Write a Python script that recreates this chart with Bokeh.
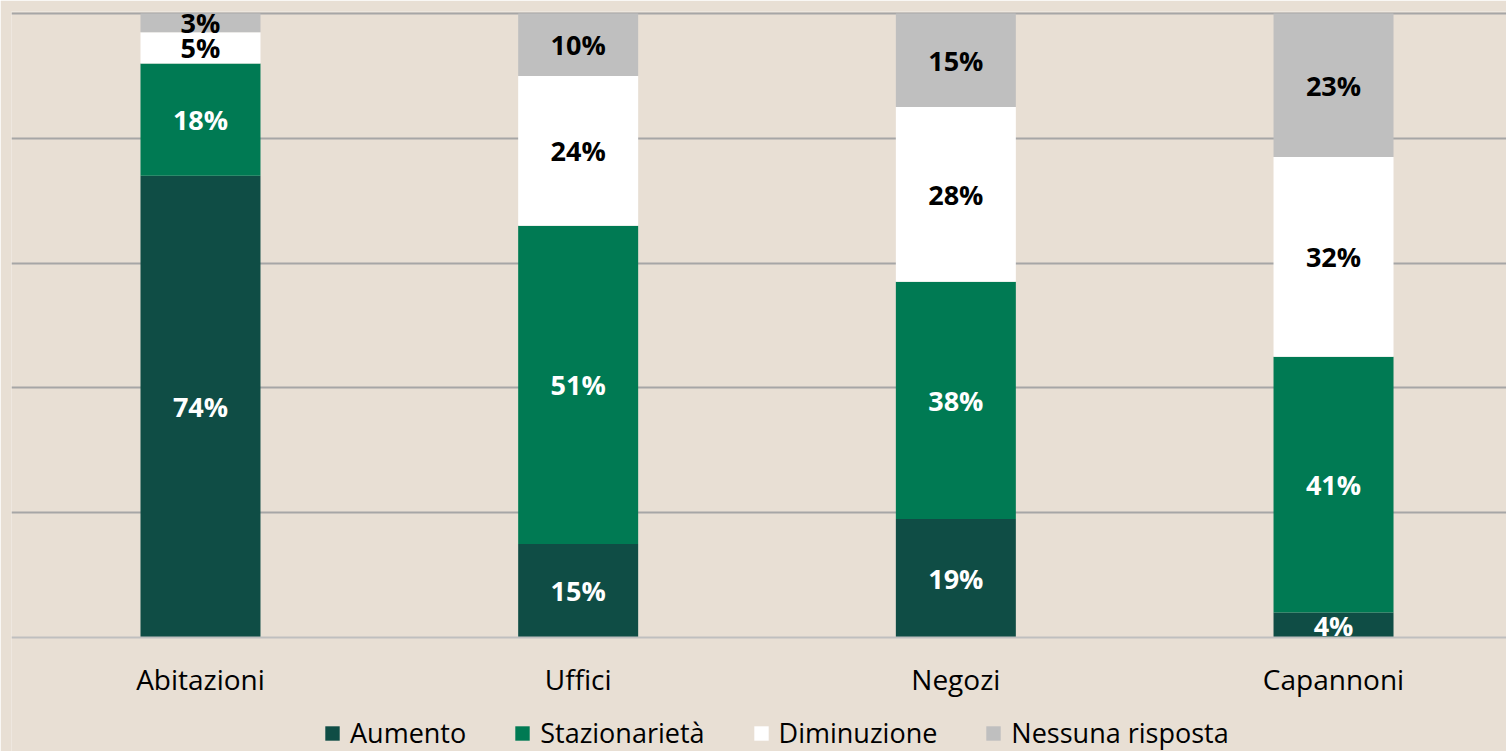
from bokeh.plotting import figure
from bokeh.models import ColumnDataSource, FixedTicker, Range1d, Legend
from bokeh.core.properties import value
from bokeh.embed import file_html
from bokeh.resources import INLINE

categories = ["Abitazioni", "Uffici", "Negozi", "Capannoni"]
aumento = [74, 15, 19, 4]
stazionarieta = [18, 51, 38, 41]
diminuzione = [5, 24, 28, 32]
nessuna = [3, 10, 15, 23]
series_names = ["Aumento", "Stazionarietà", "Diminuzione", "Nessuna risposta"]
colors = ["#0f4d45", "#007a53", "#ffffff", "#bfbfbf"]
label_colors = ["white", "white", "black", "black"]

BG = "#e8dfd4"
FONT = "Open Sans"

xs = list(range(len(categories)))
data = {"x": xs, "s0": aumento, "s1": stazionarieta, "s2": diminuzione, "s3": nessuna}
source = ColumnDataSource(data)

p = figure(output_backend="svg", toolbar_location=None,
           x_range=Range1d(-0.5004, 3.458), y_range=Range1d(-18.27, 100.32),
           frame_width=1495, frame_height=740,
           min_border_left=11, min_border_right=0, min_border_top=11, min_border_bottom=0,
           background_fill_color=BG, border_fill_color=BG, outline_line_color=None)

rs = p.vbar_stack(["s0", "s1", "s2", "s3"], x="x", width=0.3177, source=source,
                  color=colors, line_color=None)

# data labels
series = [aumento, stazionarieta, diminuzione, nessuna]
cum = [0] * len(categories)
for k, vals in enumerate(series):
    ys = [cum[i] + vals[i] / 2 for i in range(len(vals))]
    cum = [cum[i] + vals[i] for i in range(len(vals))]
    lsrc = ColumnDataSource({"x": xs, "y": ys, "t": [f"{v}%" for v in vals]})
    p.text(x="x", y="y", text="t", source=lsrc, text_align="center", text_baseline="middle",
           text_font=value(FONT), text_font_style="bold", text_font_size="27px",
           text_color=label_colors[k])

# axes / grid
p.yaxis.visible = False
p.xaxis.fixed_location = 0
p.xaxis.ticker = FixedTicker(ticks=xs)
p.xaxis.major_label_overrides = {i: c for i, c in enumerate(categories)}
p.xaxis.major_tick_line_color = None
p.xaxis.minor_tick_line_color = None
p.xaxis.major_tick_out = 0
p.xaxis.major_tick_in = 0
p.xaxis.axis_line_color = "#bfbfbf"
p.xaxis.axis_line_width = 2
p.xaxis.major_label_text_font = FONT
p.xaxis.major_label_text_font_size = "28px"
p.xaxis.major_label_text_color = "black"
p.xaxis.major_label_standoff = 23
p.xgrid.visible = False
p.ygrid.ticker = FixedTicker(ticks=[20, 40, 60, 80, 100])
p.ygrid.grid_line_color = "#a6a6a6"
p.ygrid.grid_line_width = 2

legend = Legend(items=[(n, [r]) for n, r in zip(series_names, rs)], orientation="horizontal",
                location=(312, 0), background_fill_alpha=0.0,
                border_line_color=None, label_text_font=FONT, label_text_font_size="27px",
                label_text_color="black",
                glyph_width=18, glyph_height=18, label_standoff=9, spacing=47,
                padding=0, margin=0)
p.add_layout(legend, "center")

open("out.html", "w").write(file_html(p, INLINE))
